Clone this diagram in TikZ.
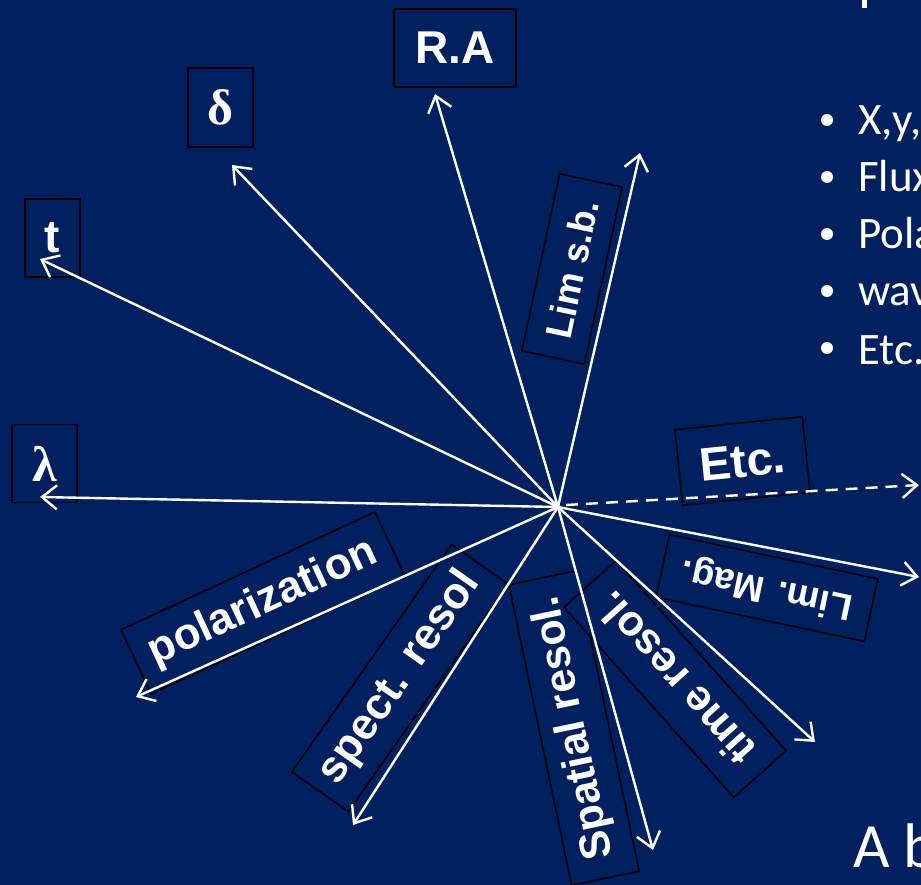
\documentclass[tikz,border=0pt]{standalone}
\usepackage{fontspec}
\setmainfont{Liberation Sans}
\newfontfamily\greekserif{Liberation Serif}
\newfontfamily\carlito{Carlito}
\usetikzlibrary{arrows.meta}
\definecolor{bg}{RGB}{0,32,96}
\tikzset{
  lbl/.style={draw=black, line width=1.5pt, fill=bg, text=white, inner sep=0pt, font=\bfseries},
  arr/.style={draw=white, line width=2.4pt, -{Straight Barb[length=15pt,width=24pt,line width=2.4pt]}},
  dasharr/.style={arr, dash pattern=on 12pt off 8pt},
  slidetext/.style={text=white, inner sep=0pt, anchor=base west, font=\carlito\fontsize{45}{45}\selectfont}
}
\newcommand{\fs}[1]{\fontsize{#1}{#1}\selectfont}
\begin{document}
\begin{tikzpicture}[x=1pt,y=-1pt]
\useasboundingbox (0,0) rectangle (921,885);
\clip (0,0) rectangle (921,885);
\fill[bg] (0,0) rectangle (921,885);

% label boxes
\node[lbl, minimum width=122pt, minimum height=78pt] (RA) at (455,48) {\fs{46}R.A};
\node[lbl, minimum width=65pt, minimum height=79pt] (delta) at (220.5,107.5) {\greekserif\bfseries\fs{50}δ};
\node[lbl, minimum width=55pt, minimum height=78pt] (t) at (52.5,238) {\fs{46}t};
\node[lbl, minimum width=65pt, minimum height=78pt] (lambda) at (44.5,463.5) {\greekserif\bfseries\fs{50}λ};
\node[lbl, minimum width=181pt, minimum height=64pt, rotate=78] (limsb) at (572,269) {\fs{37}Lim s.b.};
\node[lbl, minimum width=128pt, minimum height=76pt, rotate=5.8] (etc) at (742.5,461) {\fs{47}Etc.};
\node[lbl, minimum width=213pt, minimum height=64pt, rotate=168] (limmag) at (767,588) {\fs{37}Lim. Mag.};
\node[lbl, minimum width=280pt, minimum height=71pt, rotate=24.9] (pol) at (263,603) {\fs{44}polarization};
\node[lbl, minimum width=278pt, minimum height=69pt, rotate=54.9] (spect) at (400,678) {\fs{44}spect. resol};
\node[lbl, minimum width=307pt, minimum height=69pt, rotate=101.8] (spatial) at (574,728) {\fs{43}Spatial resol.};
\node[lbl, minimum width=255pt, minimum height=70pt, rotate=131.8] (time) at (675,679) {\fs{43}time resol.};

% arrows
\coordinate (c) at (558,507);
\coordinate (eRA) at (435,94);
\coordinate (eLim) at (640,153);
\coordinate (eDelta) at (232,165);
\coordinate (eT) at (40,259);
\coordinate (eLambda) at (40,497);
\coordinate (sEtc) at (566,505);
\coordinate (eEtc) at (919,485);
\coordinate (eMag) at (919,577);
\coordinate (ePol) at (136,697);
\coordinate (eSpect) at (353,825);
\coordinate (eSpatial) at (653,850);
\coordinate (eTime) at (815,742);

\draw[arr] (c) -- (eRA);
\draw[arr] (c) -- (eLim);
\draw[arr] (c) -- (eDelta);
\draw[arr] (c) -- (eT);
\draw[arr] (c) -- (eLambda);
\draw[dasharr] (sEtc) -- (eEtc);
\draw[arr] (c) -- (eMag);
\draw[arr] (c) -- (ePol);
\draw[arr] (c) -- (eSpect);
\draw[arr] (c) -- (eSpatial);
\draw[arr] (c) -- (eTime);

% slide text on the right (cropped)
\fill[white] (862,0) rectangle (866.5,8);
\foreach \y in {120,177,234,291,348} \fill[white] (827,\y) circle (6);
\node[slidetext] (b1) at (858,135) {X,y,};
\node[slidetext] (b2) at (858,192) {Flux};
\node[slidetext] (b3) at (858,249) {Pola};
\node[slidetext] (b4) at (858,306) {wav};
\node[slidetext] (b5) at (858,364) {Etc.};
\node[slidetext, font=\carlito\fs{63}] (ab) at (853,867) {A b};
\end{tikzpicture}
\end{document}
